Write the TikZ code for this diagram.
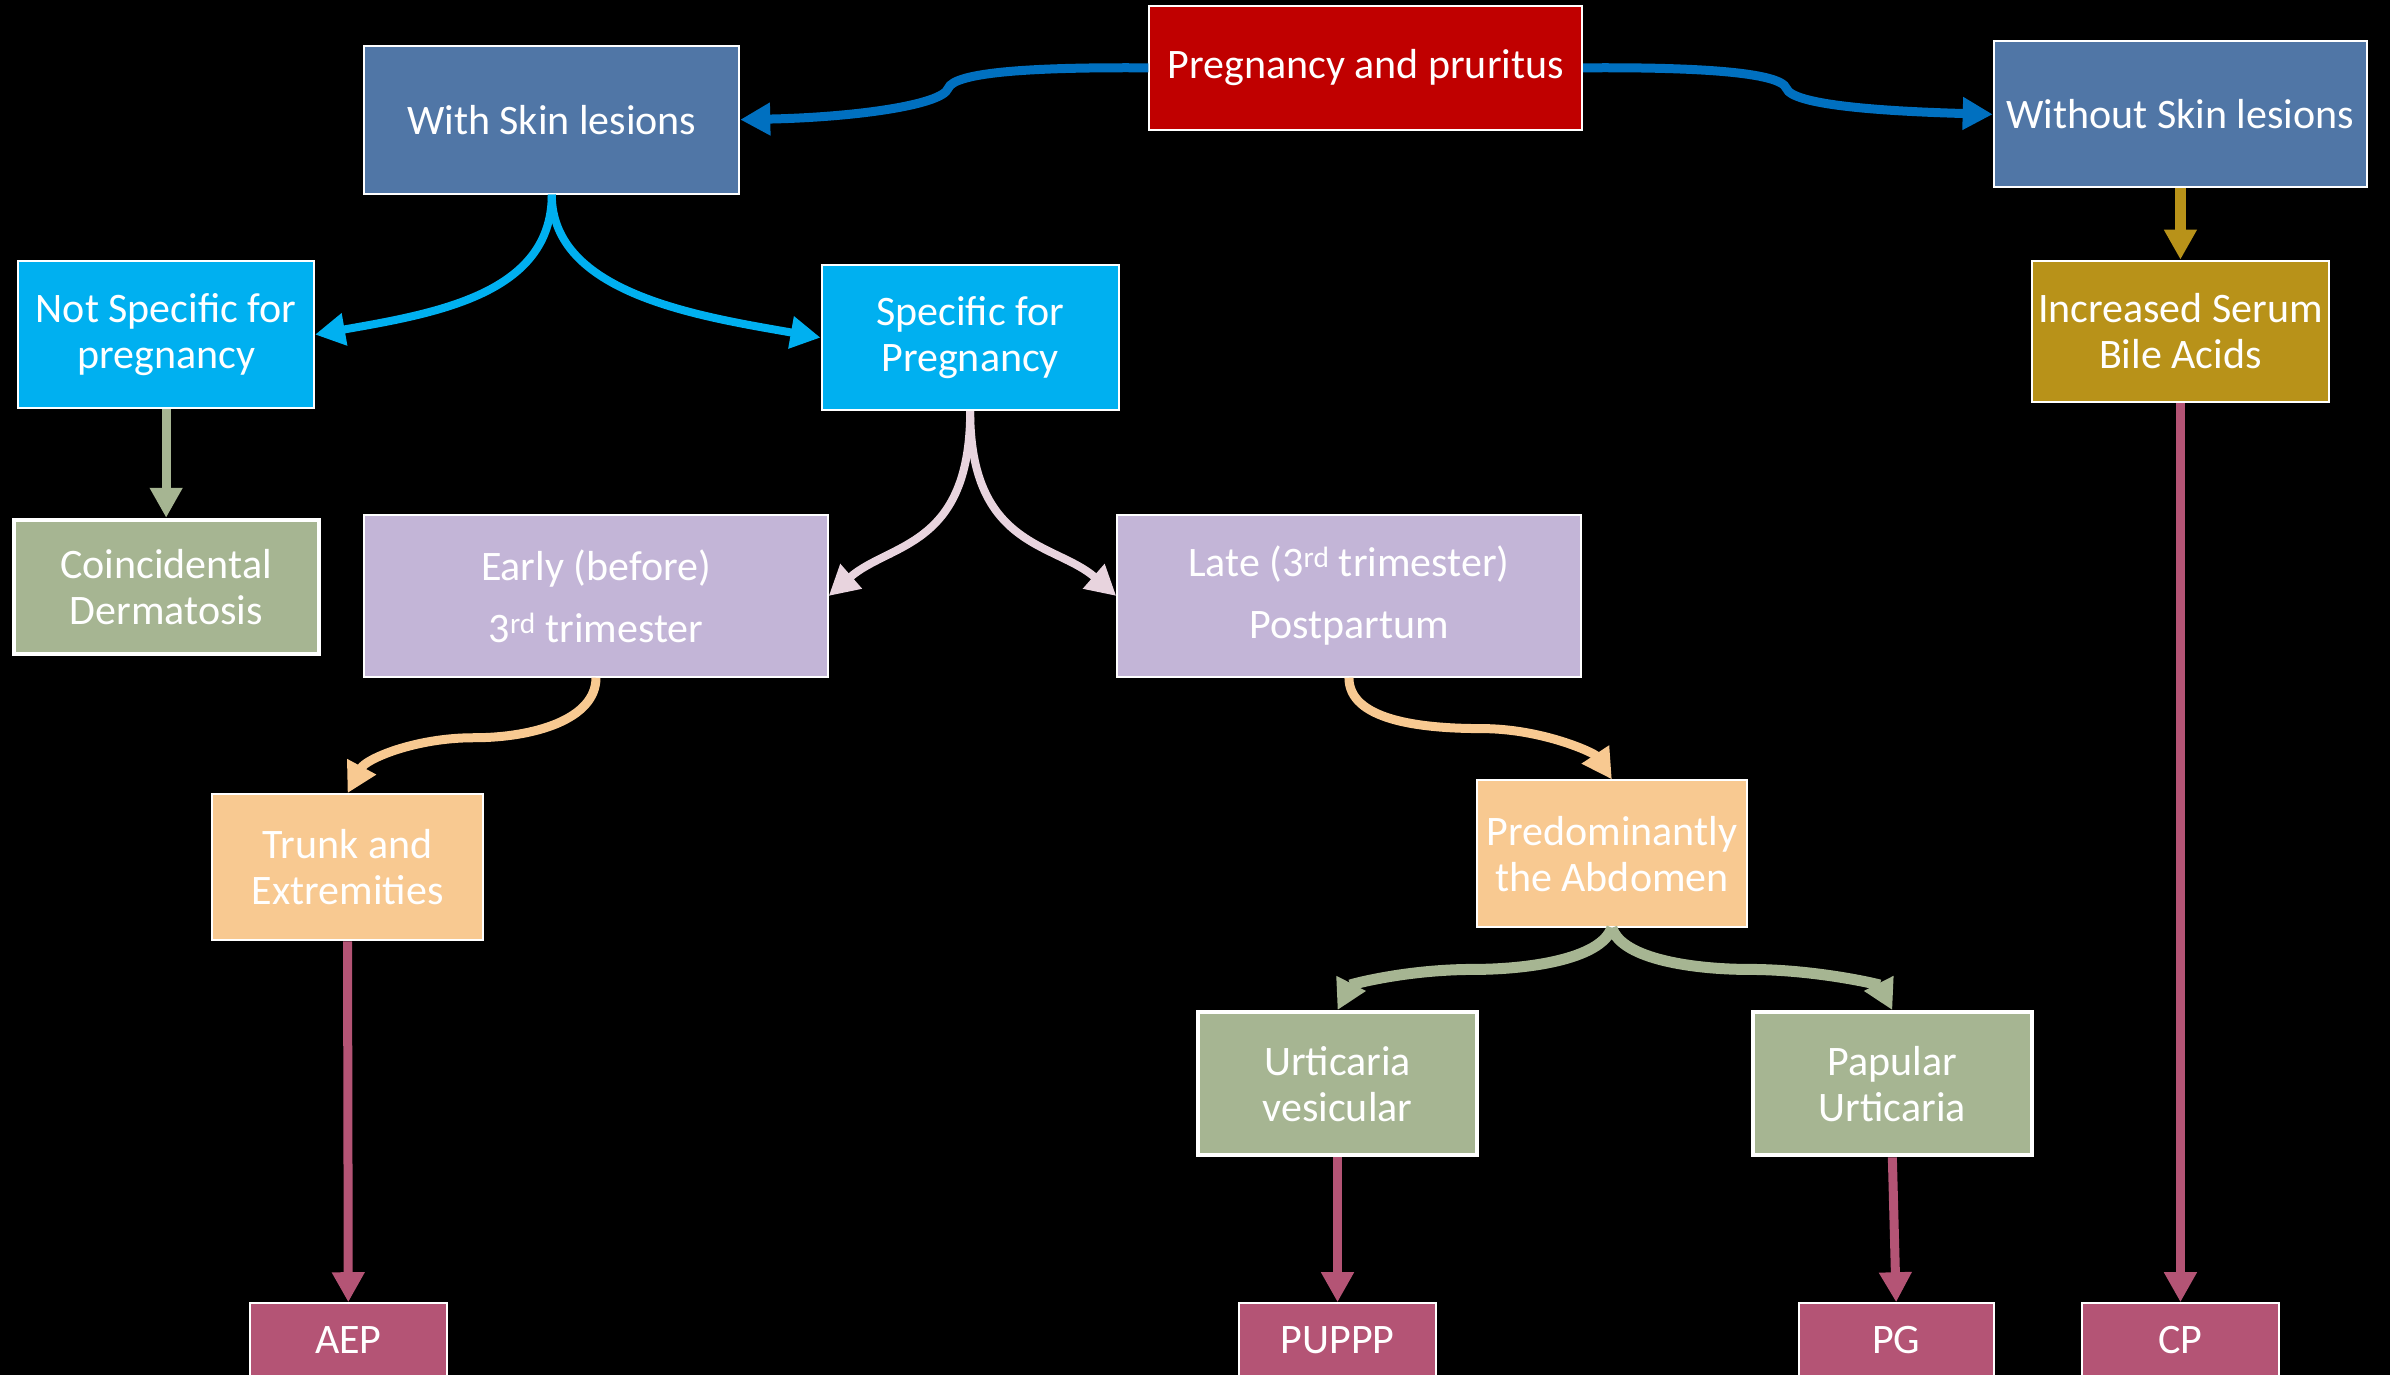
\documentclass[tikz,border=0pt]{standalone}
\usepackage{fontspec}
\setmainfont{Carlito}
\usetikzlibrary{arrows.meta}
\definecolor{cred}{RGB}{192,0,0}
\definecolor{csteel}{RGB}{80,118,166}
\definecolor{ccyan}{RGB}{0,176,240}
\definecolor{cblue}{RGB}{0,112,192}
\definecolor{cgreen}{RGB}{166,181,146}
\definecolor{clav}{RGB}{195,181,215}
\definecolor{cgold}{RGB}{184,146,25}
\definecolor{cpeach}{RGB}{248,201,145}
\definecolor{cpink}{RGB}{180,84,117}
\definecolor{cpale}{RGB}{232,212,222}
\newcommand\bx[7]{\node[#6, minimum width={(#4-#2)*1.5242pt}, minimum height={(#5-#3)*1.5242pt}]
  (#1) at ({(#2+#4)/2},{(#3+#5)/2}) {#7};}
\begin{document}
\begin{tikzpicture}[x=1.5242pt,y=-1.5242pt,
  box/.style={draw=white, line width=2pt, inner sep=0pt, text=white, align=center,
    font=\fontsize{42}{46}\selectfont},
  gbox/.style={box, fill=cgreen, line width=4pt},
  tip/.style={-{Triangle[length=30pt,width=31pt]}},
  con/.style={tip, draw=#1},
]
\fill[black] (0,0) rectangle (1568,902);
\useasboundingbox (0,0) rectangle (1568,902);

% nodes
\bx{preg}{754}{4}{1038}{85}{box, fill=cred}{Pregnancy and pruritus}
\bx{wsl}{239}{30}{485}{127}{box, fill=csteel}{With Skin lesions}
\bx{wosl}{1308}{27}{1553}{123}{box, fill=csteel}{Without Skin lesions}
\bx{ns}{12}{171}{206}{268}{box, fill=ccyan}{Not Specific for\\pregnancy}
\bx{sp}{539}{174}{734}{269}{box, fill=ccyan}{Specific for\\Pregnancy}
\bx{cd}{9}{341}{209}{429}{gbox}{Coincidental\\Dermatosis}
\bx{early}{239}{338}{543}{444}{box, fill=clav}{Early (before)\\[16pt]3\textsuperscript{rd} trimester}
\bx{late}{733}{338}{1037}{444}{box, fill=clav}{Late (3\textsuperscript{rd} trimester)\\[16pt]Postpartum}
\bx{isba}{1333}{171}{1528}{264}{box, fill=cgold}{Increased Serum\\Bile Acids}
\bx{trunk}{139}{521}{317}{617}{box, fill=cpeach}{Trunk and\\Extremities}
\bx{pred}{969}{512}{1146}{608}{box, fill=cpeach}{Predominantly\\the Abdomen}
\bx{uv}{786}{664}{969}{758}{gbox}{Urticaria\\vesicular}
\bx{pu}{1150}{664}{1333}{758}{gbox}{Papular\\Urticaria}
\bx{aep}{164}{855}{293}{903}{box, fill=cpink}{AEP}
\bx{puppp}{813}{855}{942}{903}{box, fill=cpink}{PUPPP}
\bx{pg}{1180}{855}{1308}{903}{box, fill=cpink}{PG}
\bx{cp}{1366}{855}{1495}{903}{box, fill=cpink}{CP}

% connectors
\draw[con=cblue, line width=9pt] (preg.west) .. controls (680,44) and (626,47) .. (622,58)
   .. controls (618,69) and (560,77) .. (wsl.east);
\draw[con=cblue, line width=9pt] (preg.east) .. controls (1110,44) and (1168,47) .. (1172,58)
   .. controls (1176,69) and (1235,73) .. (wosl.west);
\draw[con=ccyan, line width=8pt] (wsl.south) .. controls +(0,65) and +(80,-14) .. (ns.east);
\draw[con=ccyan, line width=8pt] (wsl.south) .. controls +(0,65) and +(-80,-14) .. (sp.west);
\draw[con=cgreen, line width=9pt] (ns.south) -- (cd.north);
\draw[con=cpale, line width=8pt] (sp.south) .. controls +(0,90) and +(40,-35) .. (early.east);
\draw[con=cpale, line width=8pt] (sp.south) .. controls +(0,90) and +(-40,-35) .. (late.west);
\draw[con=cpeach, line width=9pt] (early.south) .. controls (391,472) and (350,484) .. (311,484)
   .. controls (272,484) and (240,498) .. (trunk.north);
\draw[con=cpeach, line width=9pt] (late.south) .. controls (885,472) and (930,478) .. (972,478)
   .. controls (1012,478) and (1046,494) .. (pred.north);
\draw[con=cgreen, line width=11pt] (pred.south) .. controls (1050,630) and (1000,636) .. (967,636)
   .. controls (922,636) and (886,646) .. (uv.north);
\draw[con=cgreen, line width=11pt] (pred.south) .. controls (1064,630) and (1114,636) .. (1147,636)
   .. controls (1192,636) and (1233,646) .. (pu.north);
\draw[con=cgold, line width=11pt] (wosl.south) -- (isba.north);
\draw[con=cpink, line width=9pt] (isba.south) -- (cp.north);
\draw[con=cpink, line width=9pt] (trunk.south) -- (aep.north);
\draw[con=cpink, line width=9pt] (uv.south) -- (puppp.north);
\draw[con=cpink, line width=9pt] (pu.south) -- (pg.north);
\end{tikzpicture}
\end{document}
